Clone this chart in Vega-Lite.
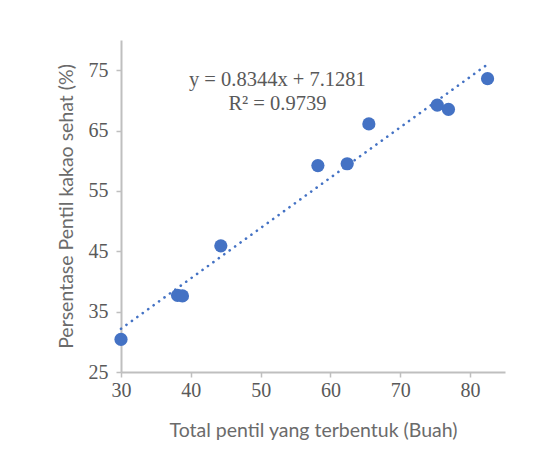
{
  "$schema": "https://vega.github.io/schema/vega-lite/v6.json",
  "width": 384,
  "height": 332,
  "autosize": {"type": "none"},
  "padding": {"left": 121, "top": 40, "right": 35, "bottom": 101},
  "background": "white",
  "config": {"view": {"stroke": null}},
  "datasets": {
    "points": [
      {"total": 30.0, "persen": 30.4},
      {"total": 38.1, "persen": 37.7},
      {"total": 38.8, "persen": 37.6},
      {"total": 44.3, "persen": 45.9},
      {"total": 58.2, "persen": 59.2},
      {"total": 62.4, "persen": 59.5},
      {"total": 65.5, "persen": 66.1},
      {"total": 75.3, "persen": 69.2},
      {"total": 76.9, "persen": 68.5},
      {"total": 82.5, "persen": 73.6}
    ],
    "trend": [
      {"total": 30.0, "persen": 32.16},
      {"total": 82.5, "persen": 75.97}
    ],
    "labels": [
      {"total": 52.4, "persen": 73.3, "text": "y = 0.8344x + 7.1281"},
      {"total": 52.4, "persen": 69.4, "text": "R² = 0.9739"}
    ]
  },
  "layer": [
    {
      "data": {"name": "trend"},
      "mark": {"type": "line", "color": "#4472C4", "strokeWidth": 2.6, "strokeDash": [0.1, 6.6], "strokeCap": "round"},
      "encoding": {
        "x": {"field": "total", "type": "quantitative"},
        "y": {"field": "persen", "type": "quantitative"}
      }
    },
    {
      "data": {"name": "points"},
      "mark": {"type": "circle", "color": "#4472C4", "opacity": 1, "size": 175},
      "encoding": {
        "x": {
          "field": "total", "type": "quantitative",
          "scale": {"domain": [30, 85], "nice": false, "zero": false},
          "axis": {
            "title": "Total pentil yang terbentuk (Buah)",
            "values": [30, 40, 50, 60, 70, 80],
            "grid": false, "labelFlush": false,
            "domainColor": "#BFBFBF", "domainWidth": 2,
            "tickColor": "#BFBFBF", "tickWidth": 1.5, "tickSize": 5,
            "labelFont": "Liberation Serif", "labelFontSize": 20, "labelColor": "#595959", "labelPadding": 3,
            "titleFont": "Lato", "titleFontSize": 19.5, "titleFontWeight": "normal", "titleColor": "#6b6b6b", "titlePadding": 21
          }
        },
        "y": {
          "field": "persen", "type": "quantitative",
          "scale": {"domain": [25, 80], "nice": false, "zero": false},
          "axis": {
            "title": "Persentase Pentil kakao sehat (%)",
            "values": [25, 35, 45, 55, 65, 75],
            "grid": false, "labelFlush": false,
            "domainColor": "#BFBFBF", "domainWidth": 2,
            "tickColor": "#BFBFBF", "tickWidth": 1.5, "tickSize": 5,
            "labelFont": "Liberation Serif", "labelFontSize": 20, "labelColor": "#595959", "labelPadding": 8,
            "titleFont": "Lato", "titleFontSize": 19.5, "titleFontWeight": "normal", "titleColor": "#6b6b6b", "titlePadding": 12
          }
        }
      }
    },
    {
      "data": {"name": "labels"},
      "mark": {"type": "text", "font": "Liberation Serif", "fontSize": 20.5, "color": "#595959", "align": "center", "baseline": "middle"},
      "encoding": {
        "x": {"field": "total", "type": "quantitative"},
        "y": {"field": "persen", "type": "quantitative"},
        "text": {"field": "text"}
      }
    }
  ]
}
